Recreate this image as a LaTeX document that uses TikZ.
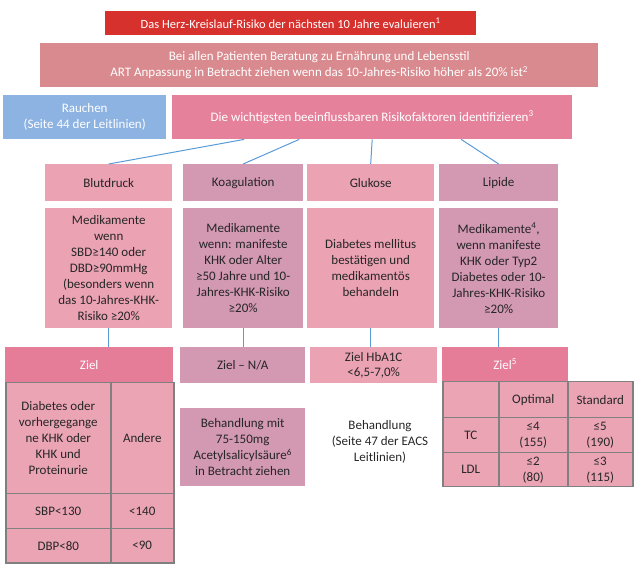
\documentclass[tikz,border=0pt]{standalone}
\usepackage{fontspec}
\setmainfont{Carlito}
\usepackage{tikz}
\usepackage{xcolor}

\definecolor{topred}{HTML}{D7312E}
\definecolor{rose}{HTML}{D98A8E}
\definecolor{smokeblue}{HTML}{8DB3E2}
\definecolor{riskpink}{HTML}{E6819B}
\definecolor{lightpink}{HTML}{EBA2B3}
\definecolor{mauve}{HTML}{D398B2}
\definecolor{zielpink}{HTML}{E57C98}
\definecolor{cellpink}{HTML}{EBA4B4}
\definecolor{gridgray}{HTML}{808080}
\definecolor{linkblue}{HTML}{5B9BD5}

\begin{document}
\begin{tikzpicture}[x=1pt,y=-1pt,
    font=\fontsize{13}{16}\selectfont,
    box/.style={rectangle,align=center,inner sep=1pt,anchor=north west,text=black!85},
    sz/.style 2 args={minimum width=#1,minimum height=#2},
    cell/.style={box,draw=gridgray,line width=1.5pt,fill=cellpink},
    link/.style={draw=linkblue,line width=1pt}]
      \useasboundingbox (0,0) rectangle (638,569);

      % top of the chart
      \node [box,sz={371pt}{24pt},fill=topred,text=white,font=\fontsize{12.5}{15}\selectfont] (eval) at (105,11) {%
        Das Herz-Kreislauf-Risiko der nächsten 10 Jahre evaluieren\textsuperscript{1}};
      \node [box,sz={558pt}{44pt},fill=rose,text=white] (advice) at (40,43) {%
        Bei allen Patienten Beratung zu Ernährung und Lebensstil\\
        ART Anpassung in Betracht ziehen wenn das 10-Jahres-Risiko höher als 20\% ist\textsuperscript{2}};
      \node [box,sz={163pt}{44pt},fill=smokeblue,text=white] (smoke) at (3,95) {%
        Rauchen\\(Seite 44 der Leitlinien)};
      \node [box,sz={400pt}{44pt},fill=riskpink,text=white] (risk) at (172,95) {%
        Die wichtigsten beeinflussbaren Risikofaktoren identifizieren\textsuperscript{3}};

      % risk factors
      \node [box,sz={127pt}{37pt},fill=lightpink] (blut) at (45,164) {Blutdruck};
      \node [box,sz={120pt}{37pt},fill=mauve] (koag) at (183,164) {Koagulation};
      \node [box,sz={127pt}{37pt},fill=lightpink] (gluk) at (307,164) {Glukose};
      \node [box,sz={119pt}{37pt},fill=mauve] (lip) at (439,164) {Lipide};

      \node [box,sz={127pt}{120pt},fill=lightpink] (bdet) at (45,208) {%
        Medikamente\\wenn\\SBD≥140 oder\\DBD≥90mmHg\\(besonders wenn\\das 10-Jahres-KHK-\\Risiko ≥20\%};
      \node [box,sz={120pt}{120pt},fill=mauve] (kdet) at (183,208) {%
        Medikamente\\wenn: manifeste\\KHK oder Alter\\≥50 Jahre und 10-\\Jahres-KHK-Risiko\\≥20\%};
      \node [box,sz={127pt}{120pt},fill=lightpink] (gdet) at (307,208) {%
        Diabetes mellitus\\bestätigen und\\medikamentös\\behandeln};
      \node [box,sz={119pt}{120pt},fill=mauve] (ldet) at (439,208) {%
        Medikamente\textsuperscript{4},\\wenn manifeste\\KHK oder Typ2\\Diabetes oder 10-\\Jahres-KHK-Risiko\\≥20\%};

      \draw [link] ([xshift=-128pt]risk.south) -- (blut.north);
      \draw [link] ([xshift=-73pt]risk.south) -- (koag.north);
      \draw [link] (risk.south) -- (gluk.north);
      \draw [link] ([xshift=89pt]risk.south) -- (lip.north);

      % targets
      \node [box,sz={168pt}{35pt},fill=zielpink,text=white] (bziel) at (5,347) {Ziel};
      \node [cell,sz={105pt}{111pt}] (bc11) at (5,382) {%
        Diabetes oder\\vorhergegange\\ne KHK oder\\KHK und\\Proteinurie};
      \node [cell,sz={63pt}{111pt}] (bc12) at (110,382) {Andere};
      \node [cell,sz={105pt}{35pt}] (bc21) at (5,493) {SBP<130};
      \node [cell,sz={63pt}{35pt}] (bc22) at (110,493) {<140};
      \node [cell,sz={105pt}{34pt}] (bc31) at (5,528) {DBP<80};
      \node [cell,sz={63pt}{34pt}] (bc32) at (110,528) {<90};

      \node [box,sz={125pt}{36pt},fill=mauve] (kziel) at (180,347) {Ziel -- N/A};
      \node [box,sz={125pt}{78pt},fill=mauve] (asa) at (180,408) {%
        Behandlung mit\\75-150mg\\Acetylsalicylsäure\textsuperscript{6}\\in Betracht ziehen};

      \node [box,sz={127pt}{36pt},fill=lightpink,font=\fontsize{13}{15}\selectfont] (gziel) at (310,347) {%
        Ziel HbA1C\\<6,5-7,0\%};
      \node [box,anchor=center] (gtreat) at (380,442) {%
        Behandlung\\(Seite 47 der EACS\\Leitlinien)};

      \node [box,sz={126pt}{34pt},fill=zielpink,text=white] (lziel) at (442,347) {Ziel\textsuperscript{5}};
      \node [cell,sz={56pt}{36pt}] (lc11) at (442,381) {};
      \node [cell,sz={69pt}{36pt}] (lc12) at (498,381) {Optimal};
      \node [cell,sz={65pt}{36pt}] (lc13) at (567,381) {Standard};
      \node [cell,sz={56pt}{35pt}] (lc21) at (442,417) {TC};
      \node [cell,sz={69pt}{35pt}] (lc22) at (498,417) {≤4\\(155)};
      \node [cell,sz={65pt}{35pt}] (lc23) at (567,417) {≤5\\(190)};
      \node [cell,sz={56pt}{34pt}] (lc31) at (442,452) {LDL};
      \node [cell,sz={69pt}{34pt}] (lc32) at (498,452) {≤2\\(80)};
      \node [cell,sz={65pt}{34pt}] (lc33) at (567,452) {≤3\\(115)};

      \draw [link] (bdet.south) -- (bdet.south |- bziel.north);
      \draw [link] (kdet.south) -- (kdet.south |- kziel.north);
      \draw [link] (gdet.south) -- (gdet.south |- gziel.north);
      \draw [link] (ldet.south) -- (ldet.south |- lziel.north);
    \end{tikzpicture}
\end{document}
